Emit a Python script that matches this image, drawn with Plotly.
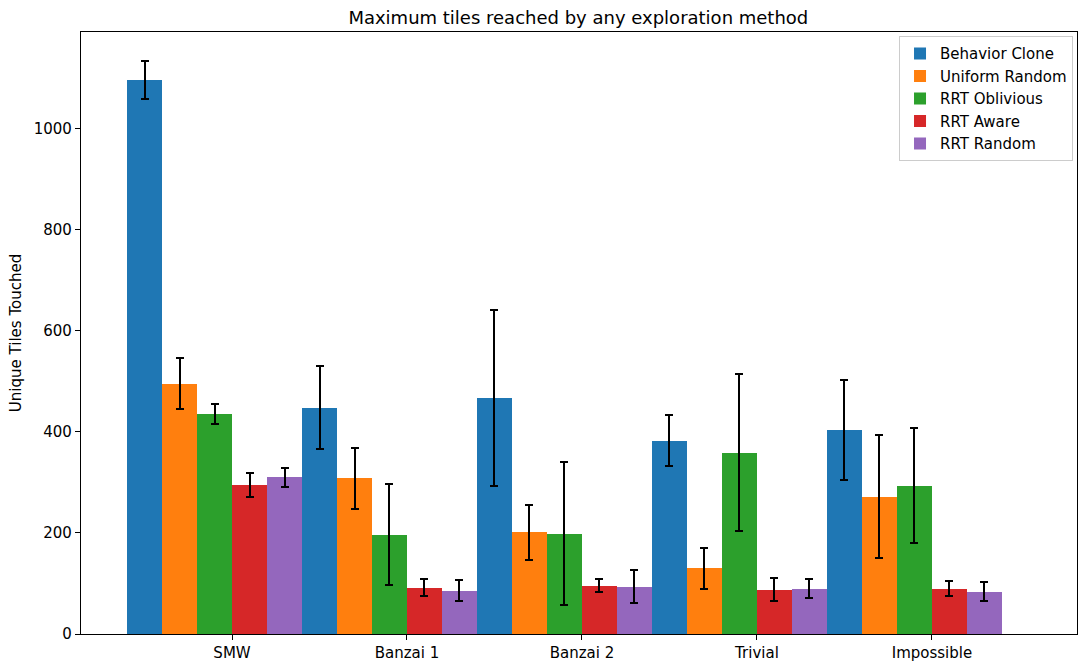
import plotly.graph_objects as go

# Levels and exploration methods
levels = ["SMW", "Banzai 1", "Banzai 2", "Trivial", "Impossible"]
methods = ["Behavior Clone", "Uniform Random", "RRT Oblivious", "RRT Aware", "RRT Random"]

# Mean unique tiles touched per level, with standard deviations
behavior_clone = [1097, 448, 468, 383, 403]
behavior_clone_err = [38, 82, 174, 51, 99]
uniform_random = [496, 308, 201, 130, 272]
uniform_random_err = [51, 61, 54, 41, 122]
rrt_oblivious = [436, 197, 199, 359, 294]
rrt_oblivious_err = [20, 100, 142, 155, 113]
rrt_aware = [295, 92, 96, 88, 90]
rrt_aware_err = [23, 16, 13, 22, 15]
rrt_random = [310, 86, 94, 90, 84]
rrt_random_err = [18, 21, 33, 19, 18]

series = [
    (behavior_clone, behavior_clone_err),
    (uniform_random, uniform_random_err),
    (rrt_oblivious, rrt_oblivious_err),
    (rrt_aware, rrt_aware_err),
    (rrt_random, rrt_random_err),
]
colors = ["#1f77b4", "#ff7f0e", "#2ca02c", "#d62728", "#9467bd"]

bar_w = 0.2
FONT = "DejaVu Sans"

fig = go.Figure()
for k, (name, (vals, errs), col) in enumerate(zip(methods, series, colors)):
    xs = [i + bar_w * k - 0.5 for i in range(len(levels))]
    fig.add_trace(go.Bar(
        x=xs, y=vals, width=bar_w, name=name,
        marker=dict(color=col, line=dict(width=0)),
        error_y=dict(type="data", array=errs, visible=True,
                     color="black", thickness=2, width=4),
    ))

fig.update_layout(
    width=1078, height=664,
    margin=dict(l=81, r=1, t=32, b=30),
    paper_bgcolor="white", plot_bgcolor="white",
    barmode="overlay",
    bargap=0,
    font=dict(family=FONT, size=15, color="black"),
    title=dict(text="Maximum tiles reached by any exploration method",
               x=0.5365, xanchor="center", y=0.964, yanchor="bottom",
               yref="container",
               font=dict(family=FONT, size=18, color="black")),
    legend=dict(x=0.996, y=0.993, xanchor="right", yanchor="top",
                bgcolor="white", bordercolor="#cccccc", borderwidth=1,
                font=dict(family=FONT, size=15, color="black"),
                tracegroupgap=0),
    showlegend=True,
)

fig.update_xaxes(
    range=[-0.863, 4.829],
    tickmode="array", tickvals=list(range(len(levels))), ticktext=levels,
    showline=True, linecolor="black", linewidth=1.2, mirror=True,
    ticks="outside", ticklen=5, tickwidth=1.2, tickcolor="black",
    showgrid=False, zeroline=False,
    tickfont=dict(family=FONT, size=15, color="black"),
)
fig.update_yaxes(
    range=[0, 1192],
    tickmode="array", tickvals=[0, 200, 400, 600, 800, 1000],
    showline=True, linecolor="black", linewidth=1.2, mirror=True,
    ticks="outside", ticklen=5, tickwidth=1.2, tickcolor="black",
    showgrid=False, zeroline=False,
    tickfont=dict(family=FONT, size=15, color="black"),
    title=dict(text="Unique Tiles Touched", standoff=8,
               font=dict(family=FONT, size=15, color="black")),
)

fig.write_html("out.html")
